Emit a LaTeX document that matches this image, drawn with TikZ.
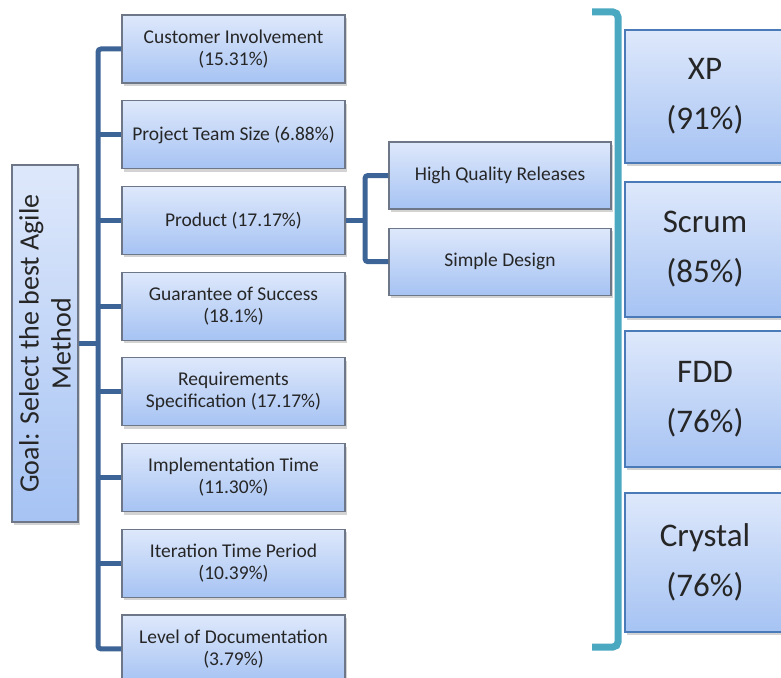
\documentclass[tikz,border=0pt]{standalone}
\usepackage{fontspec}
\setmainfont{Carlito}
\usetikzlibrary{positioning,shadows}
\definecolor{boxtop}{HTML}{DEE8FB}
\definecolor{boxbottom}{HTML}{A6C3F3}
\definecolor{critline}{HTML}{6E7787}
\definecolor{methodline}{HTML}{4A7AB8}
\definecolor{branchblue}{HTML}{3D6496}
\definecolor{bracketteal}{HTML}{4AA8C0}
\definecolor{labeltext}{HTML}{262626}
\begin{document}
\begin{tikzpicture}
	[
		x=1pt, y=1pt,
		node distance=16.5pt,
		branch/.style={draw=branchblue, line width=5pt, rounded corners=3pt},
		bracket/.style={draw=bracketteal, line width=7pt, rounded corners=5pt},
		box shadow/.style={drop shadow={shadow xshift=2pt, shadow yshift=-3pt, opacity=0.35}}
	]
	\tikzstyle{Crit} = [rectangle, minimum width=223pt, minimum height=68pt, align=center, draw=critline, line width=1.2pt, top color=boxtop, bottom color=boxbottom, box shadow, text=labeltext, font=\fontsize{19.5}{22}\selectfont]
	\tikzstyle{Method} = [rectangle, minimum width=160pt, align=center, draw=methodline, line width=2.5pt, top color=boxtop, bottom color=boxbottom, box shadow, text=labeltext, font=\fontsize{33}{50}\selectfont]
	\useasboundingbox (0,0) rectangle (781,-677);
	% goal
	\node [Crit, rotate=90, minimum width=357pt, minimum height=66pt, font=\fontsize{28}{32}\selectfont] (goal) at (45,-343.5) {Goal: Select the best Agile\\Method};
	% criteria
	\node [Crit] (c1) at (233.5,-49) {Customer Involvement\\(15.31\%)};
	\node [Crit, below=of c1] (c2) {Project Team Size (6.88\%)};
	\node [Crit, below=of c2] (c3) {Product (17.17\%)};
	\node [Crit, below=of c3] (c4) {Guarantee of Success\\(18.1\%)};
	\node [Crit, below=of c4] (c5) {Requirements\\Specification (17.17\%)};
	\node [Crit, below=of c5] (c6) {Implementation Time\\(11.30\%)};
	\node [Crit, below=of c6] (c7) {Iteration Time Period\\(10.39\%)};
	\node [Crit, below=of c7] (c8) {Level of Documentation\\(3.79\%)};
	% sub criteria of product
	\node [Crit, minimum width=222pt, minimum height=67pt] (hq) at (500,-175.5) {High Quality Releases};
	\node [Crit, minimum width=222pt, minimum height=67pt, below=18pt of hq] (sd) {Simple Design};
	% methods
	\node [Method, minimum height=133pt] (xp) at (705,-96.5) {XP\\(91\%)};
	\node [Method, minimum height=135pt] (scrum) at (705,-249.5) {Scrum\\(85\%)};
	\node [Method, minimum height=136pt] (fdd) at (705,-399) {FDD\\(76\%)};
	\node [Method, minimum height=139pt] (crystal) at (705,-562.5) {Crystal\\(76\%)};
	% connectors
	\coordinate (trunk) at (98,0);
	\coordinate (subtrunk) at (365,0);
	\draw [branch] (c1.west) -- (c1.west -| trunk) |- (c8.west);
	\draw [branch] (c2.west) -- (c2.west -| trunk);
	\draw [branch] (c3.west) -- (c3.west -| trunk);
	\draw [branch] (c4.west) -- (c4.west -| trunk);
	\draw [branch] (c5.west) -- (c5.west -| trunk);
	\draw [branch] (c6.west) -- (c6.west -| trunk);
	\draw [branch] (c7.west) -- (c7.west -| trunk);
	\draw [branch] (goal.south) -- (goal.south -| trunk);
	\draw [branch] (hq.west) -- (hq.west -| subtrunk) |- (sd.west);
	\draw [branch] (c3.east) -- (c3.east -| subtrunk);
	% bracket
	\coordinate (brtop) at (592,-12);
	\coordinate (brbot) at (592,-647);
	\draw [bracket] (brtop) -- ++(26,0) -- ([xshift=26pt]brbot) -- (brbot);
\end{tikzpicture}
\end{document}
